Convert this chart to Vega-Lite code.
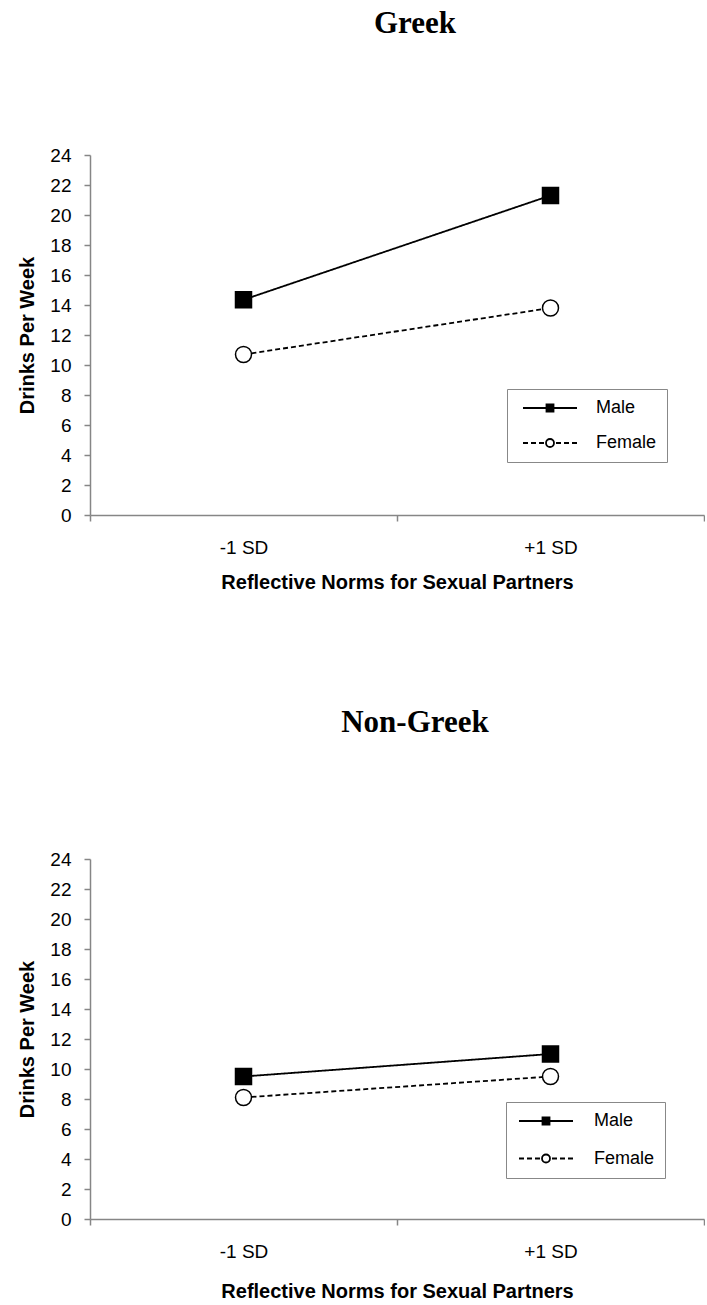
{
  "$schema": "https://vega.github.io/schema/vega-lite/v6.json",
  "background": "white",
  "padding": {"left": 17, "top": 8, "right": 0, "bottom": 0},
  "spacing": 114,
  "datasets": {
    "greek": [
      {"norm": "-1 SD", "gender": "Male", "drinks": 14.35},
      {"norm": "+1 SD", "gender": "Male", "drinks": 21.3},
      {"norm": "-1 SD", "gender": "Female", "drinks": 10.7},
      {"norm": "+1 SD", "gender": "Female", "drinks": 13.8}
    ],
    "nongreek": [
      {"norm": "-1 SD", "gender": "Male", "drinks": 9.5},
      {"norm": "+1 SD", "gender": "Male", "drinks": 11.0},
      {"norm": "-1 SD", "gender": "Female", "drinks": 8.1},
      {"norm": "+1 SD", "gender": "Female", "drinks": 9.5}
    ]
  },
  "config": {
    "view": {"stroke": null},
    "axis": {
      "domainColor": "#868686", "tickColor": "#868686", "domainWidth": 1.5, "tickWidth": 1.5,
      "labelColor": "black", "titleColor": "black",
      "labelFont": "Liberation Sans", "titleFont": "Liberation Sans",
      "labelFontSize": 19, "titleFontSize": 20, "titleFontWeight": "bold",
      "grid": false, "tickSize": 6
    },
    "title": {"font": "Liberation Serif", "fontSize": 31, "fontWeight": "bold", "color": "black", "anchor": "middle"},
    "legend": {
      "title": null, "orient": "none",
      "strokeColor": "#888888", "fillColor": "white", "padding": 10,
      "labelFont": "Liberation Sans", "labelFontSize": 18, "labelColor": "black"
    }
  },
  "vconcat": [
    {
      "title": {"text": "Greek", "offset": 106, "dx": 18},
      "width": 614, "height": 360,
      "data": {"name": "greek"},
      "encoding": {
        "x": {"field": "norm", "type": "nominal", "sort": ["-1 SD", "+1 SD"],
          "scale": {"type": "band", "paddingInner": 0, "paddingOuter": 0},
          "axis": {"title": "Reflective Norms for Sexual Partners", "labelAngle": 0, "tickBand": "extent", "labelPadding": 17.5, "titlePadding": 15}},
        "y": {"field": "drinks", "type": "quantitative", "scale": {"domain": [0, 24], "nice": false},
          "axis": {"title": "Drinks Per Week", "values": [0, 2, 4, 6, 8, 10, 12, 14, 16, 18, 20, 22, 24], "labelPadding": 13, "titlePadding": 12}}
      },
      "layer": [
        {"mark": {"type": "line", "color": "black", "strokeWidth": 1.8},
          "encoding": {"strokeDash": {"field": "gender", "type": "nominal", "scale": {"domain": ["Female", "Male"], "range": [[5, 3], [1, 0]]}, "legend": null}}},
        {"mark": {"type": "point", "filled": true, "size": 256, "stroke": "black", "strokeWidth": 1.5, "opacity": 1},
          "encoding": {
            "shape": {"field": "gender", "type": "nominal", "scale": {"domain": ["Female", "Male"], "range": ["circle", "square"]}, "legend": null},
            "fill": {"field": "gender", "type": "nominal", "scale": {"domain": ["Male", "Female"], "range": ["black", "white"]},
              "legend": {"orient": "none", "legendX": 417, "legendY": 234,
                "symbolOffset": 24, "labelOffset": 37, "rowPadding": 17,
                "encoding": {"symbols": {
                  "shape": {"value": {"expr": "datum.value === 'Male' ? 'M-5.4,0H5.4M-0.7,-0.7H0.7V0.7H-0.7Z' : 'M-5.4,0H-4.4M-3.8,0H-2.8M-2.2,0H-1.2M1.2,0H2.2M2.8,0H3.8M4.4,0H5.4M0.8,0A0.8,0.8,0,1,1,-0.8,0A0.8,0.8,0,1,1,0.8,0Z'"}},
                  "size": {"value": 100}, "stroke": {"value": "black"}, "strokeWidth": {"value": 1.8}, "opacity": {"value": 1}}}}}
          }}
      ]
    },
    {
      "title": {"text": "Non-Greek", "offset": 111, "dx": 18},
      "width": 614, "height": 360,
      "data": {"name": "nongreek"},
      "encoding": {
        "x": {"field": "norm", "type": "nominal", "sort": ["-1 SD", "+1 SD"],
          "scale": {"type": "band", "paddingInner": 0, "paddingOuter": 0},
          "axis": {"title": "Reflective Norms for Sexual Partners", "labelAngle": 0, "tickBand": "extent", "labelPadding": 17, "titlePadding": 20}},
        "y": {"field": "drinks", "type": "quantitative", "scale": {"domain": [0, 24], "nice": false},
          "axis": {"title": "Drinks Per Week", "values": [0, 2, 4, 6, 8, 10, 12, 14, 16, 18, 20, 22, 24], "labelPadding": 13, "titlePadding": 12}}
      },
      "layer": [
        {"mark": {"type": "line", "color": "black", "strokeWidth": 1.8},
          "encoding": {"strokeDash": {"field": "gender", "type": "nominal", "scale": {"domain": ["Female", "Male"], "range": [[5, 3], [1, 0]]}, "legend": null}}},
        {"mark": {"type": "point", "filled": true, "size": 256, "stroke": "black", "strokeWidth": 1.5, "opacity": 1},
          "encoding": {
            "shape": {"field": "gender", "type": "nominal", "scale": {"domain": ["Female", "Male"], "range": ["circle", "square"]}, "legend": null},
            "fill": {"field": "gender", "type": "nominal", "scale": {"domain": ["Male", "Female"], "range": ["black", "white"]},
              "legend": {"orient": "none", "legendX": 416, "legendY": 243,
                "symbolOffset": 21, "labelOffset": 39, "rowPadding": 19.5,
                "encoding": {"symbols": {
                  "shape": {"value": {"expr": "datum.value === 'Male' ? 'M-5.4,0H5.4M-0.7,-0.7H0.7V0.7H-0.7Z' : 'M-5.4,0H-4.4M-3.8,0H-2.8M-2.2,0H-1.2M1.2,0H2.2M2.8,0H3.8M4.4,0H5.4M0.8,0A0.8,0.8,0,1,1,-0.8,0A0.8,0.8,0,1,1,0.8,0Z'"}},
                  "size": {"value": 100}, "stroke": {"value": "black"}, "strokeWidth": {"value": 1.8}, "opacity": {"value": 1}}}}}
          }}
      ]
    }
  ],
  "resolve": {
    "scale": {"x": "independent", "y": "independent", "fill": "independent", "shape": "independent", "strokeDash": "independent"},
    "legend": {"fill": "independent", "shape": "independent", "strokeDash": "independent"}
  }
}
